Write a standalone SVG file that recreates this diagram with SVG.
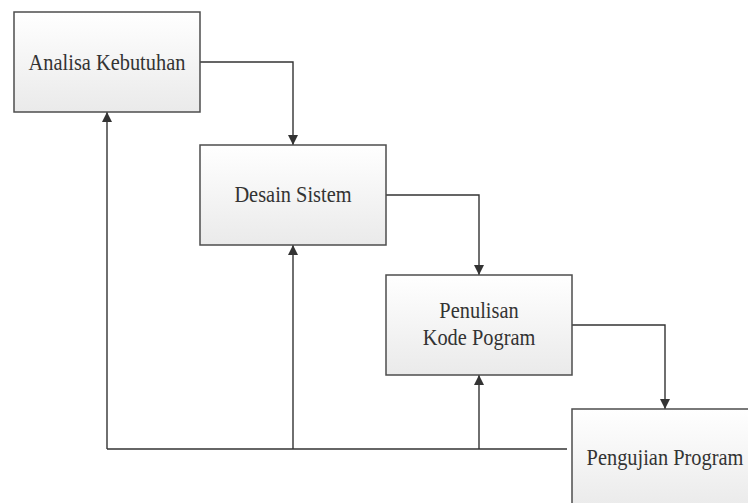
<svg xmlns="http://www.w3.org/2000/svg" width="748" height="503" viewBox="0 0 748 503">
<style>
.box{fill:url(#g);stroke:#4d4d4d;stroke-width:1.5}
.t{font-family:"Liberation Serif","Times New Roman",serif;font-size:20.4px;fill:#333;text-anchor:middle}
.c{fill:none;stroke:#333;stroke-width:1.4}
.a{fill:none;stroke:#333;stroke-width:1.4;marker-end:url(#ah)}
</style>
<defs>
<linearGradient id="g" x1="0" y1="0" x2="0" y2="1">
<stop offset="0" stop-color="#ffffff"/>
<stop offset="1" stop-color="#eaeaea"/>
</linearGradient>
<marker id="ah" viewBox="0 0 10 10" refX="10" refY="5" markerWidth="11" markerHeight="10" markerUnits="userSpaceOnUse" orient="auto">
<path d="M0,0 L10,5 L0,10 Z" fill="#333"/>
</marker>
</defs>
<rect width="748" height="503" fill="#fff"/>
<g id="connectors">
<path class="a" d="M200,62 H293 V145"/>
<path class="a" d="M386,195 H479 V275"/>
<path class="a" d="M572,325 H665 V409"/>
<path class="c" d="M567,449 H107"/>
<path class="a" d="M107,449 V112"/>
<path class="a" d="M293,449 V245"/>
<path class="a" d="M479,449 V375"/>
</g>
<g id="analisa">
<rect class="box" x="14" y="12" width="186" height="100"/>
<text class="t" transform="translate(107,70) scale(1,1.12)">Analisa Kebutuhan</text>
</g>
<g id="desain">
<rect class="box" x="200" y="145" width="186" height="100"/>
<text class="t" transform="translate(293,201.5) scale(1,1.12)">Desain Sistem</text>
</g>
<g id="penulisan">
<rect class="box" x="386" y="275" width="186" height="100"/>
<text class="t" transform="translate(479,318) scale(1,1.12)">Penulisan</text>
<text class="t" transform="translate(479,345) scale(1,1.12)">Kode Pogram</text>
</g>
<g id="pengujian">
<rect class="box" x="572" y="409" width="186" height="100"/>
<text class="t" transform="translate(665,465) scale(1,1.12)">Pengujian Program</text>
</g>
</svg>
